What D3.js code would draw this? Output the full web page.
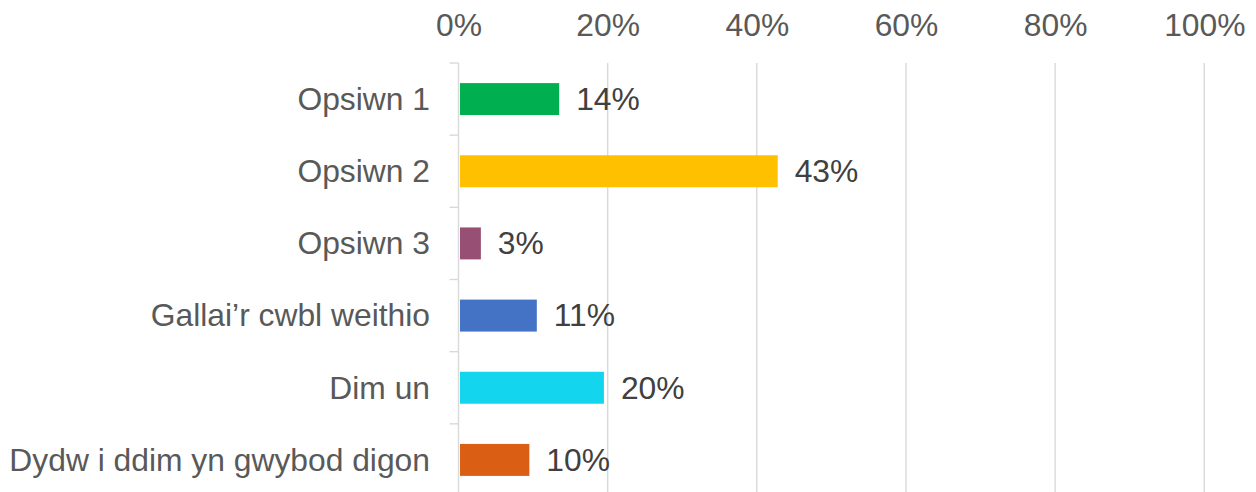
<!DOCTYPE html>
<html>
<head>
<meta charset="utf-8">
<script src="https://cdn.jsdelivr.net/npm/d3@7"></script>
<style>
  html, body { margin: 0; padding: 0; background: #ffffff; }
  svg { display: block; font-family: Arial, "Liberation Sans", sans-serif; }
</style>
</head>
<body>
<svg id="chart" width="1256" height="492"></svg>
<script>
const categories = ["Opsiwn 1", "Opsiwn 2", "Opsiwn 3", "Gallai\u2019r cwbl weithio", "Dim un", "Dydw i ddim yn gwybod digon"];
const values = [0.135, 0.428, 0.030, 0.105, 0.195, 0.095];
const colors = ["#00B050", "#FFC000", "#974F73", "#4472C4", "#13D5EE", "#DA5F15"];
const xTicks = [0, 0.2, 0.4, 0.6, 0.8, 1.0];

const svg = d3.select("#chart");
const x = d3.scaleLinear().domain([0, 1]).range([458.5, 1204.3]);
const y = d3.scaleBand().domain(categories).range([63, 496]).paddingInner(0.557).paddingOuter(0.2785);
const fmt = d3.format(".0%");
const FS = 31.8;

// gridlines
svg.append("g").selectAll("line").data(xTicks.slice(1)).join("line")
  .attr("x1", d => x(d)).attr("x2", d => x(d))
  .attr("y1", 63).attr("y2", 496)
  .attr("stroke", "#d9d9d9").attr("stroke-width", 1.4);

// top axis labels
const xAxis = d3.axisTop(x).tickValues(xTicks).tickFormat(fmt).tickSize(0).tickPadding(0);
const gx = svg.append("g").attr("transform", "translate(0,36)").call(xAxis);
gx.select(".domain").remove();
gx.selectAll("text").attr("font-size", FS).attr("fill", "#595959")
  .attr("font-family", "Arial, 'Liberation Sans', sans-serif").attr("dy", 0);

// left category axis
const yAxis = d3.axisLeft(y).tickSize(0).tickPadding(28.5);
const gy = svg.append("g").attr("transform", `translate(${x(0)},0)`).call(yAxis);
gy.select(".domain").remove();
gy.selectAll("text").attr("font-size", FS).attr("fill", "#595959")
  .attr("font-family", "Arial, 'Liberation Sans', sans-serif").attr("dy", "0.34em");

// axis line and boundary ticks
svg.append("line").attr("x1", x(0)).attr("x2", x(0)).attr("y1", 63).attr("y2", 496)
  .attr("stroke", "#d9d9d9").attr("stroke-width", 1.4);
const bounds = d3.range(categories.length + 1).map(i => y.range()[0] + i * y.step());
svg.append("g").selectAll("line").data(bounds).join("line")
  .attr("x1", x(0) - 9).attr("x2", x(0))
  .attr("y1", d => d).attr("y2", d => d)
  .attr("stroke", "#d9d9d9").attr("stroke-width", 1.4);

// bars
svg.append("g").selectAll("rect").data(values).join("rect")
  .attr("x", x(0) + 1.5)
  .attr("y", (d, i) => y(categories[i]))
  .attr("width", d => x(d) - x(0) - 1.5)
  .attr("height", y.bandwidth())
  .attr("fill", (d, i) => colors[i]);

// data labels
svg.append("g").selectAll("text").data(values).join("text")
  .attr("x", d => x(d) + 17)
  .attr("y", (d, i) => y(categories[i]) + y.bandwidth() / 2)
  .attr("dy", "0.34em")
  .attr("font-size", FS).attr("fill", "#404040")
  .text(d => fmt(d));
</script>
</body>
</html>
